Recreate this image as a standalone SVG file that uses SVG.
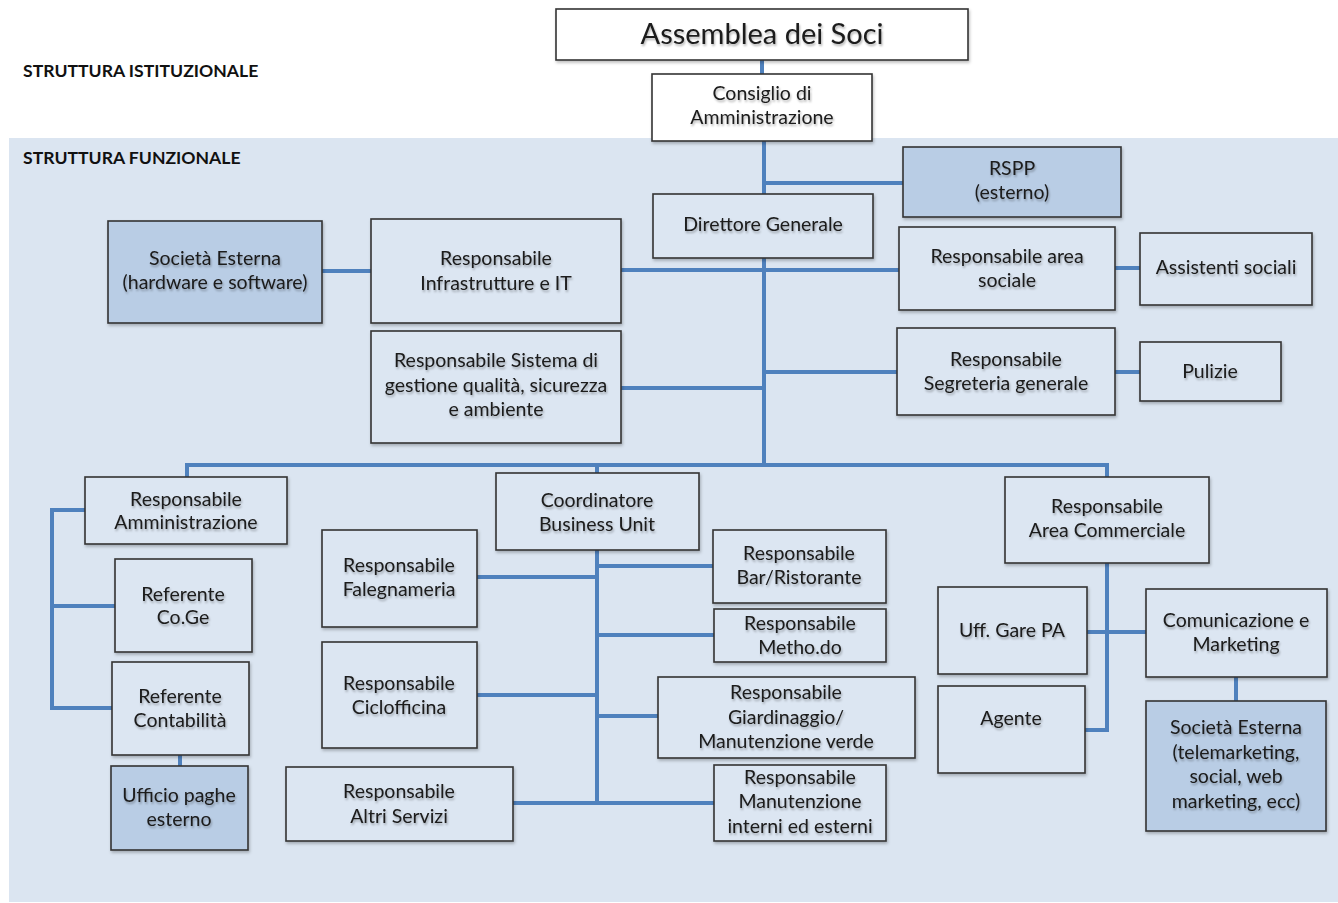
<svg xmlns="http://www.w3.org/2000/svg" width="1338" height="903" viewBox="0 0 1338 903">
<defs>
<filter id="ts" x="-10%" y="-30%" width="120%" height="160%">
<feDropShadow dx="1" dy="2" stdDeviation="1.2" flood-color="#000" flood-opacity="0.3"/>
</filter>
<filter id="bs" x="-5%" y="-5%" width="110%" height="115%">
<feDropShadow dx="1" dy="2" stdDeviation="1.5" flood-color="#000" flood-opacity="0.25"/>
</filter>
</defs>
<style>
.b{fill:#dce6f2;stroke:#333;stroke-width:1.6;filter:url(#bs)}
.w{fill:#fff;stroke:#333;stroke-width:1.6;filter:url(#bs)}
.x{fill:#b9cde5;stroke:#333;stroke-width:1.6;filter:url(#bs)}
.t{font-family:Lato,"Liberation Sans",sans-serif;font-size:19.5px;fill:#1a1a1a;text-anchor:middle;filter:url(#ts)}
.big{font-size:29px}
.h{font-family:Lato,"Liberation Sans",sans-serif;font-size:17.6px;font-weight:bold;fill:#111}
.c{fill:none;stroke:#4f81bd;stroke-width:4;stroke-linejoin:miter}
</style>
<rect width="1338" height="903" fill="#fff"/>
<rect x="9" y="138" width="1329" height="764" fill="#dbe5f1"/>
<text class="h" x="23" y="77">STRUTTURA ISTITUZIONALE</text>
<text class="h" x="23" y="164">STRUTTURA FUNZIONALE</text>

<g id="connectors">
<path class="c" d="M762 60V74"/>
<path class="c" d="M764 141V194"/>
<path class="c" d="M764 183H903"/>
<path class="c" d="M764 258V466"/>
<path class="c" d="M621 270H899"/>
<path class="c" d="M322 271H371"/>
<path class="c" d="M621 388H764"/>
<path class="c" d="M764 372H897"/>
<path class="c" d="M1115 268H1140"/>
<path class="c" d="M1115 372H1140"/>
<path class="c" d="M187 477V465H1107V477"/>
<path class="c" d="M597 465V473"/>
<path class="c" d="M85 510H52V708H112"/>
<path class="c" d="M52 606H115"/>
<path class="c" d="M180 755V766"/>
<path class="c" d="M597 550V804"/>
<path class="c" d="M477 577H597"/>
<path class="c" d="M597 566H713"/>
<path class="c" d="M597 635H714"/>
<path class="c" d="M477 695H597"/>
<path class="c" d="M597 716H658"/>
<path class="c" d="M513 803H714"/>
<path class="c" d="M1107 563V730H1085"/>
<path class="c" d="M1087 632H1146"/>
<path class="c" d="M1236 677V701"/>
</g>

<g id="assemblea"><rect class="w" x="556" y="9" width="412" height="51"/><text class="t big" x="762" y="44">Assemblea dei Soci</text></g>
<g id="consiglio"><rect class="w" x="652" y="74" width="220" height="67"/><text class="t" x="762" y="100">Consiglio di</text><text class="t" x="762" y="124">Amministrazione</text></g>
<g id="rspp"><rect class="x" x="903" y="147" width="218" height="70"/><text class="t" x="1012" y="175">RSPP</text><text class="t" x="1012" y="199">(esterno)</text></g>
<g id="direttore"><rect class="b" x="653" y="194" width="220" height="64"/><text class="t" x="763" y="231">Direttore Generale</text></g>
<g id="societa-hw"><rect class="x" x="108" y="221" width="214" height="102"/><text class="t" x="215" y="265">Società Esterna</text><text class="t" x="215" y="289">(hardware e software)</text></g>
<g id="infrastrutture"><rect class="b" x="371" y="219" width="250" height="104"/><text class="t" x="496" y="265">Responsabile</text><text class="t" x="496" y="290">Infrastrutture e IT</text></g>
<g id="sistema"><rect class="b" x="371" y="331" width="250" height="112"/><text class="t" x="496" y="367">Responsabile Sistema di</text><text class="t" x="496" y="392">gestione qualità, sicurezza</text><text class="t" x="496" y="416">e ambiente</text></g>
<g id="area-sociale"><rect class="b" x="899" y="227" width="216" height="83"/><text class="t" x="1007" y="263">Responsabile area</text><text class="t" x="1007" y="287">sociale</text></g>
<g id="assistenti"><rect class="b" x="1140" y="233" width="172" height="72"/><text class="t" x="1226" y="274">Assistenti sociali</text></g>
<g id="segreteria"><rect class="b" x="897" y="328" width="218" height="87"/><text class="t" x="1006" y="366">Responsabile</text><text class="t" x="1006" y="390">Segreteria generale</text></g>
<g id="pulizie"><rect class="b" x="1140" y="342" width="141" height="59"/><text class="t" x="1210" y="378">Pulizie</text></g>
<g id="amministrazione"><rect class="b" x="85" y="477" width="202" height="67"/><text class="t" x="186" y="506">Responsabile</text><text class="t" x="186" y="529">Amministrazione</text></g>
<g id="coge"><rect class="b" x="115" y="559" width="137" height="93"/><text class="t" x="183" y="601">Referente</text><text class="t" x="183" y="624">Co.Ge</text></g>
<g id="contabilita"><rect class="b" x="112" y="662" width="137" height="93"/><text class="t" x="180" y="703">Referente</text><text class="t" x="180" y="727">Contabilità</text></g>
<g id="paghe"><rect class="x" x="111" y="766" width="137" height="84"/><text class="t" x="179" y="802">Ufficio paghe</text><text class="t" x="179" y="826">esterno</text></g>
<g id="coordinatore"><rect class="b" x="496" y="473" width="203" height="77"/><text class="t" x="597" y="507">Coordinatore</text><text class="t" x="597" y="531">Business Unit</text></g>
<g id="falegnameria"><rect class="b" x="322" y="530" width="155" height="97"/><text class="t" x="399" y="572">Responsabile</text><text class="t" x="399" y="596">Falegnameria</text></g>
<g id="ciclofficina"><rect class="b" x="322" y="642" width="155" height="106"/><text class="t" x="399" y="690">Responsabile</text><text class="t" x="399" y="714">Ciclofficina</text></g>
<g id="altri"><rect class="b" x="286" y="767" width="227" height="74"/><text class="t" x="399" y="798">Responsabile</text><text class="t" x="399" y="823">Altri Servizi</text></g>
<g id="bar"><rect class="b" x="713" y="530" width="173" height="73"/><text class="t" x="799" y="560">Responsabile</text><text class="t" x="799" y="584">Bar/Ristorante</text></g>
<g id="methodo"><rect class="b" x="714" y="609" width="172" height="53"/><text class="t" x="800" y="630">Responsabile</text><text class="t" x="800" y="654">Metho.do</text></g>
<g id="giardinaggio"><rect class="b" x="658" y="677" width="257" height="81"/><text class="t" x="786" y="699">Responsabile</text><text class="t" x="786" y="724">Giardinaggio/</text><text class="t" x="786" y="748">Manutenzione verde</text></g>
<g id="manutenzione"><rect class="b" x="714" y="765" width="172" height="76"/><text class="t" x="800" y="784">Responsabile</text><text class="t" x="800" y="808">Manutenzione</text><text class="t" x="800" y="833">interni ed esterni</text></g>
<g id="commerciale"><rect class="b" x="1005" y="477" width="204" height="86"/><text class="t" x="1107" y="513">Responsabile</text><text class="t" x="1107" y="537">Area Commerciale</text></g>
<g id="gare"><rect class="b" x="938" y="587" width="149" height="87"/><text class="t" x="1012" y="637">Uff. Gare PA</text></g>
<g id="comunicazione"><rect class="b" x="1146" y="589" width="181" height="88"/><text class="t" x="1236" y="627">Comunicazione e</text><text class="t" x="1236" y="651">Marketing</text></g>
<g id="agente"><rect class="b" x="938" y="686" width="147" height="87"/><text class="t" x="1011" y="725">Agente</text></g>
<g id="societa-mkt"><rect class="x" x="1146" y="701" width="180" height="130"/><text class="t" x="1236" y="734">Società Esterna</text><text class="t" x="1236" y="759">(telemarketing,</text><text class="t" x="1236" y="783">social, web</text><text class="t" x="1236" y="808">marketing, ecc)</text></g>
</svg>
